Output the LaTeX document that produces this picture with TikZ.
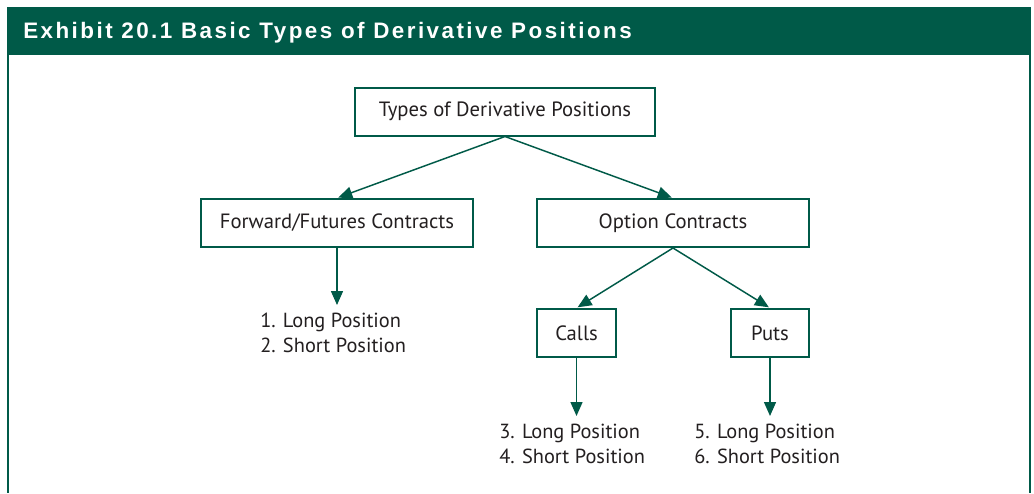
\documentclass[tikz,border=0pt]{standalone}
\usepackage{fontspec}
\setmainfont{PT Sans}
\newfontfamily\hdrfont[LetterSpace=11]{Liberation Sans}
\usetikzlibrary{arrows.meta}
\definecolor{exgreen}{RGB}{0,90,72}
\definecolor{txt}{RGB}{35,31,32}
\tikzset{
  box/.style={draw=exgreen, line width=1.5pt, fill=white, text=txt,
    font=\fontsize{15.5}{18}\selectfont, inner sep=0pt, minimum height=36pt},
  lab/.style={text=txt, font=\fontsize{15.3}{18.75}\selectfont, align=left,
    inner sep=0pt, anchor=north west},
  arr/.style={draw=exgreen, line width=1.1pt,
    -{Triangle[length=10.5pt,width=9pt]}},
}
\begin{document}
\begin{tikzpicture}[x=0.75pt,y=-0.75pt]
\useasboundingbox (0,0) rectangle (1034,493);
\fill[white] (0,0) rectangle (1034,493);
\fill[exgreen] (7,7) rectangle (1031,55);
\draw[exgreen, line width=1.5pt] (8,55) -- (8,493);
\draw[exgreen, line width=1.5pt] (1030,55) -- (1030,493);
\node[anchor=base west, inner sep=0pt, text=white,
  font=\hdrfont\bfseries\fontsize{16.8}{18}\selectfont] (title) at (23,38.5)
  {Exhibit 20.1 Basic Types of Derivative Positions};

\node[box, minimum width=225pt] (root) at (505,111.5) {Types of Derivative Positions};
\node[box, minimum width=204pt] (fwd) at (337,223) {Forward/Futures Contracts};
\node[box, minimum width=204pt] (opt) at (673,223) {Option Contracts};
\node[box, minimum width=59.25pt] (calls) at (576.5,333) {Calls};
\node[box, minimum width=58.5pt] (puts) at (770,333) {Puts};

\node[lab] (l12) at (260,313) {1. Long Position\\2. Short Position};
\node[lab] (l34) at (499,424) {3. Long Position\\4. Short Position};
\node[lab] (l56) at (694,424) {5. Long Position\\6. Short Position};

\draw[arr, shorten >=1pt] (root.south) -- (fwd.north);
\draw[arr, shorten >=1pt] (root.south) -- (opt.north);
\draw[arr, shorten >=1pt] (opt.south) -- (calls.north);
\draw[arr, shorten >=1pt] (opt.south) -- (puts.north);
\draw[arr, shorten >=6pt] (fwd.south) -- (fwd.south |- l12.north);
\draw[arr, shorten >=6pt] (calls.south) -- (calls.south |- l34.north);
\draw[arr, shorten >=6pt] (puts.south) -- (puts.south |- l56.north);
\end{tikzpicture}
\end{document}
